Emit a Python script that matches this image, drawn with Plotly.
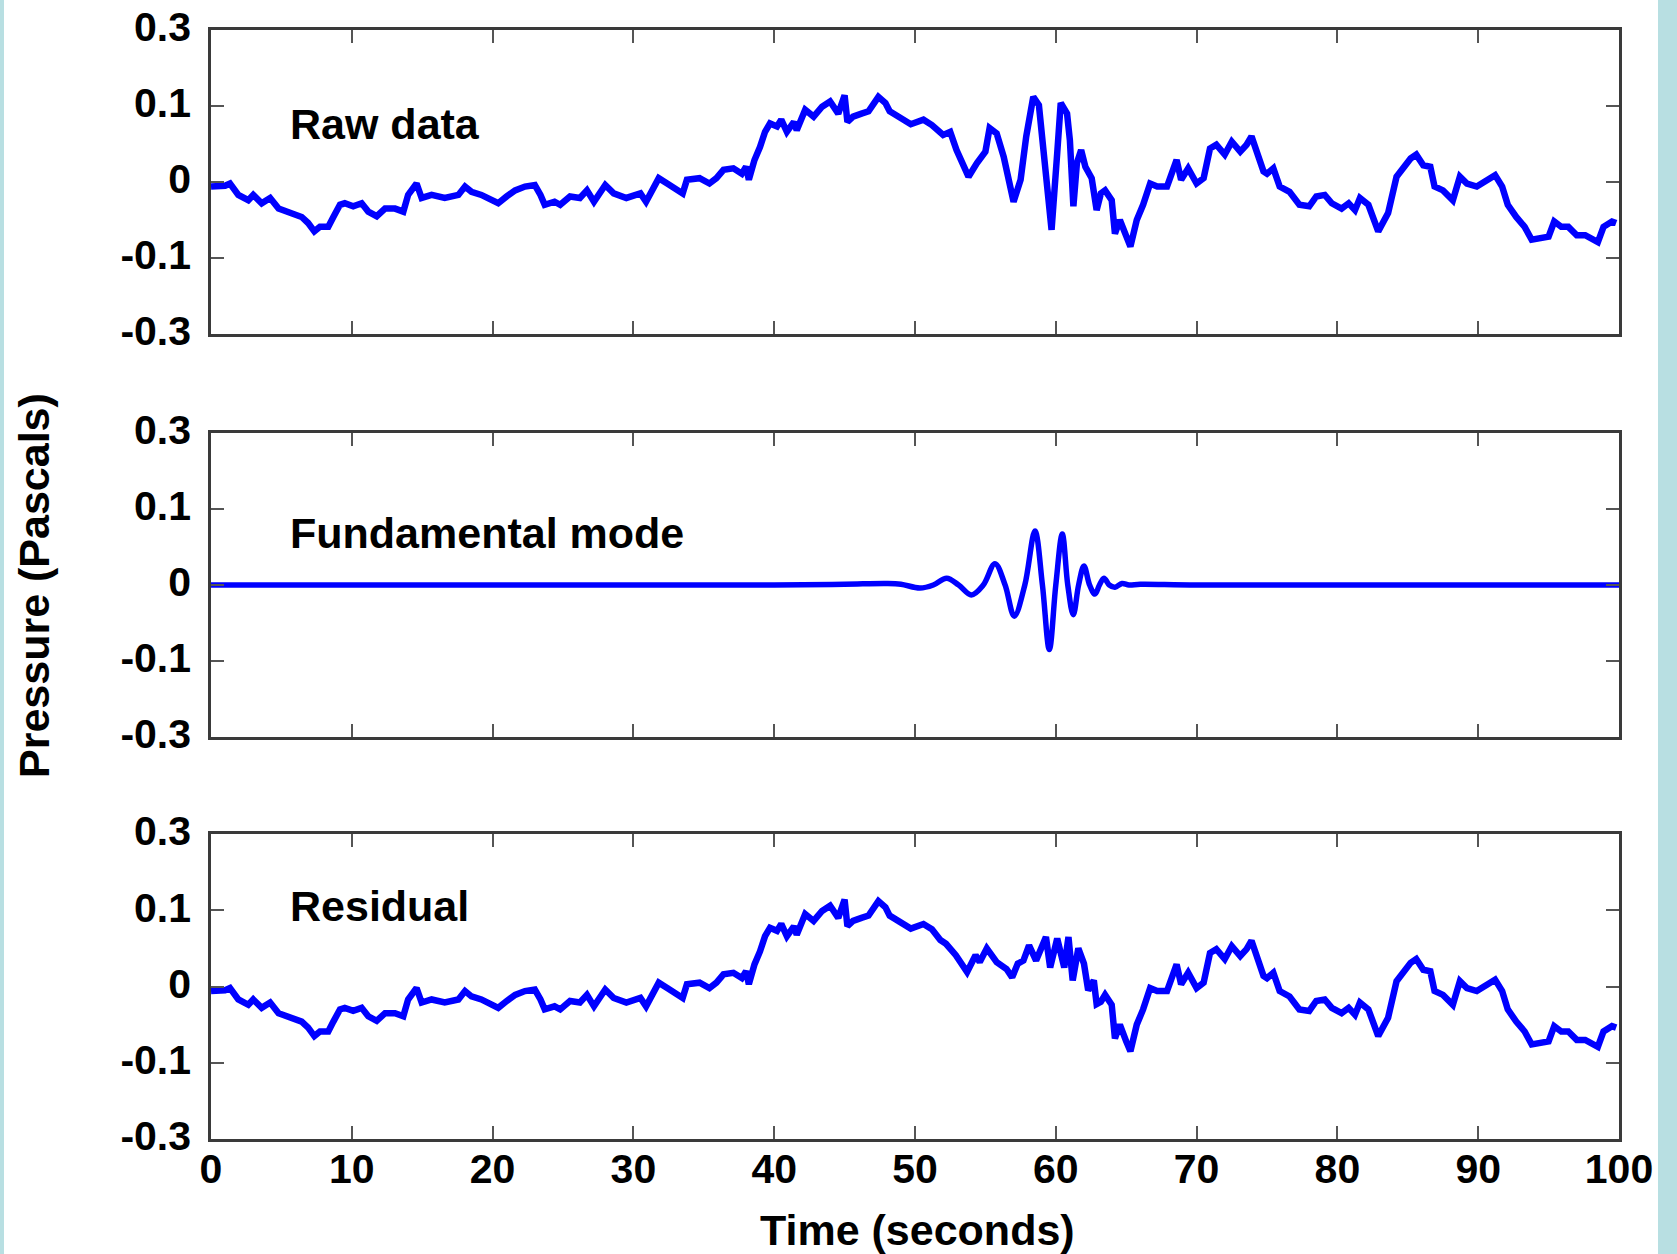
import plotly.graph_objects as go

# ---------------- data ----------------
raw_t = [0.0, 0.5, 1.0, 1.35, 1.94, 2.65, 3.0, 3.6, 4.2, 4.8, 5.7, 6.44, 6.9, 7.34, 7.74, 8.33, 8.69,
         9.16, 9.5, 10.1, 10.7, 11.17, 11.77, 12.36, 13.07, 13.66, 14.0, 14.6, 14.96, 15.67, 16.6,
         17.57, 18.04, 18.5, 19.2, 19.9, 20.4, 21.0, 21.6, 22.3, 23.0, 23.4, 23.7, 24.4, 24.8, 25.5,
         26.2, 26.7, 27.2, 28.0, 28.6, 29.5, 30.5, 30.9, 31.8, 32.4, 32.95, 33.5, 33.8, 34.7, 35.4,
         35.9, 36.4, 37.1, 37.7, 38.0, 38.2, 38.6, 38.99, 39.35, 39.7, 40.2, 40.5, 40.9, 41.4, 41.6,
         42.2, 42.8, 43.4, 43.97, 44.55, 45.0, 45.2, 45.6, 46.2, 46.7, 47.4, 47.9, 48.2, 48.9, 49.7,
         50.6, 51.2, 52.0, 52.5, 52.95, 53.8, 54.4, 55.0, 55.3, 55.8, 56.3, 57.0, 57.5, 57.9, 58.4,
         58.8, 59.1, 59.7, 60.1, 60.35, 60.8, 61.0, 61.25, 61.5, 61.8, 62.1, 62.55, 62.9, 63.2, 63.5,
         63.97, 64.2, 64.55, 65.0, 65.3, 65.75, 66.2, 66.7, 67.2, 67.9, 68.58, 68.9, 69.4, 70.0, 70.5,
         70.95, 71.4, 72.0, 72.5, 73.1, 73.55, 73.9, 74.4, 74.75, 75.0, 75.45, 75.9, 76.6, 77.3, 78.0,
         78.5, 79.1, 79.6, 80.3, 80.8, 81.25, 81.6, 82.2, 82.9, 83.6, 84.2, 84.7, 85.2, 85.6, 86.1,
         86.6, 86.9, 87.5, 88.2, 88.7, 89.2, 89.9, 90.6, 91.2, 91.7, 92.1, 92.7, 93.3, 93.8, 94.4,
         95.0, 95.4, 95.9, 96.4, 97.0, 97.6, 98.2, 98.5, 98.9, 99.5, 99.8]
raw_v = [-0.006, -0.005, -0.005, -0.002, -0.017, -0.024, -0.017, -0.028, -0.021, -0.035, -0.041,
         -0.046, -0.054, -0.065, -0.059, -0.059, -0.046, -0.030, -0.028, -0.032, -0.028, -0.039,
         -0.045, -0.035, -0.035, -0.039, -0.017, -0.002, -0.021, -0.017, -0.021, -0.017, -0.006,
         -0.013, -0.017, -0.024, -0.028, -0.019, -0.011, -0.006, -0.004, -0.017, -0.030, -0.026,
         -0.030, -0.019, -0.021, -0.011, -0.026, -0.004, -0.015, -0.021, -0.015, -0.026, 0.005,
         -0.002, -0.008, -0.015, 0.003, 0.005, -0.002, 0.005, 0.016, 0.018, 0.011, 0.020, 0.003,
         0.029, 0.046, 0.066, 0.077, 0.073, 0.082, 0.066, 0.079, 0.068, 0.095, 0.086, 0.099, 0.106,
         0.090, 0.114, 0.079, 0.086, 0.090, 0.093, 0.112, 0.104, 0.093, 0.086, 0.076, 0.082, 0.075,
         0.062, 0.066, 0.042, 0.007, 0.025, 0.040, 0.071, 0.064, 0.033, -0.026, 0.003, 0.060, 0.112,
         0.101, 0.046, -0.063, 0.038, 0.104, 0.090, 0.055, -0.032, 0.025, 0.042, 0.020, 0.005,
         -0.037, -0.015, -0.011, -0.024, -0.068, -0.050, -0.072, -0.085, -0.050, -0.030, -0.002,
         -0.006, -0.006, 0.029, 0.003, 0.018, -0.002, 0.005, 0.044, 0.049, 0.036, 0.053, 0.040,
         0.049, 0.060, 0.033, 0.014, 0.011, 0.018, -0.006, -0.013, -0.030, -0.032, -0.019, -0.017,
         -0.028, -0.035, -0.028, -0.037, -0.021, -0.030, -0.065, -0.041, 0.007, 0.018, 0.031, 0.036,
         0.022, 0.020, -0.006, -0.011, -0.024, 0.007, -0.002, -0.006, 0.003, 0.009, -0.006, -0.030,
         -0.046, -0.059, -0.076, -0.074, -0.072, -0.052, -0.059, -0.059, -0.070, -0.070, -0.076,
         -0.079, -0.059, -0.052, -0.054]

fund_t = [0, 40, 45, 48, 49, 50.35, 51.3, 52.25, 53.1, 54.0, 54.85, 55.68, 56.4, 57.05, 57.8,
          58.52, 59.05, 59.54, 60.0, 60.46, 60.85, 61.24, 61.62, 62.0, 62.4, 62.78, 63.1, 63.42,
          63.8, 64.2, 64.7, 65.2, 66, 70, 100]
fund_v = [0, 0, 0.001, 0.002, 0.001, -0.004, 0.0, 0.009, 0.0, -0.013, 0.0, 0.028, 0.0, -0.041,
          0.0, 0.071, 0.0, -0.085, 0.0, 0.067, 0.0, -0.039, 0.0, 0.025, 0.0, -0.012, 0.0, 0.009,
          0.0, -0.003, 0.002, 0.0, 0.001, 0, 0]

# residual inside the wave packet (outside it the residual follows the raw data)
res_mid_t = [51.8, 52.2, 52.9, 53.7, 54.3, 54.6, 55.1, 55.3, 55.8, 56.5, 56.9, 57.3, 57.7, 58.1,
             58.6, 59.3, 59.6, 60.1, 60.6, 60.9, 61.2, 61.6, 62.0, 62.3, 62.7, 62.9, 63.2]
res_mid_v = [0.061, 0.056, 0.041, 0.019, 0.041, 0.032, 0.050, 0.045, 0.032, 0.023, 0.012, 0.030,
             0.034, 0.054, 0.034, 0.065, 0.025, 0.063, 0.025, 0.065, 0.008, 0.050, 0.030, -0.005,
             0.008, -0.023, -0.020]

x_tickvals = [0, 10, 20, 30, 40, 50, 60, 70, 80, 90, 100]
y_tickvals = [-0.2, -0.1, 0, 0.1, 0.2]
y_ticktext = ["-0.3", "-0.1", "0", "0.1", "0.3"]
panel_labels = ["Raw data", "Fundamental mode", "Residual"]
x_title = "Time (seconds)"
y_title = "Pressure (Pascals)"

res_t = [t for t in raw_t if t < 51.6] + res_mid_t + [t for t in raw_t if t > 63.3]
res_v = ([v for t, v in zip(raw_t, raw_v) if t < 51.6] + res_mid_v +
         [v for t, v in zip(raw_t, raw_v) if t > 63.3])

# ---------------- figure ----------------
FONT = "Liberation Sans, Arial, sans-serif"
BLUE = "#0000ff"
fig = go.Figure()
fig.add_trace(go.Scatter(x=raw_t, y=raw_v, mode="lines", line=dict(color=BLUE, width=6.5),
                         xaxis="x", yaxis="y", showlegend=False))
fig.add_trace(go.Scatter(x=fund_t, y=fund_v, mode="lines",
                         line=dict(color=BLUE, width=5.5, shape="spline", smoothing=1.0),
                         xaxis="x2", yaxis="y2", showlegend=False))
fig.add_trace(go.Scatter(x=res_t, y=res_v, mode="lines", line=dict(color=BLUE, width=6.5),
                         xaxis="x3", yaxis="y3", showlegend=False))

W, H = 1677, 1254
L, R, T, B = 211, 58, 30, 115
pw, ph = W - L - R, H - T - B


def py(pix):
    return (H - B - pix) / ph


def px(pix):
    return (pix - L) / pw


domains = [[py(334), py(30)], [py(737), py(433)], [py(1139), py(834)]]

axis_common = dict(showgrid=False, zeroline=False, showline=True, linecolor="#3a3a3a",
                   linewidth=2.5, mirror="ticks", ticks="inside", ticklen=13, tickwidth=2,
                   tickcolor="#555555", automargin=False)
tickfont = dict(family=FONT, size=41, color="black", weight="bold")

layout = dict(width=W, height=H, margin=dict(l=L, r=R, t=T, b=B, autoexpand=False),
              paper_bgcolor="white", plot_bgcolor="white", showlegend=False)
for i in range(3):
    sx = "" if i == 0 else str(i + 1)
    layout["xaxis" + sx] = dict(axis_common, range=[0, 100], tickvals=x_tickvals,
                                anchor="y" + sx, domain=[0, 1],
                                showticklabels=(i == 2), tickfont=tickfont,
                                ticklabelstandoff=-8)
    layout["yaxis" + sx] = dict(axis_common, range=[-0.2, 0.2], tickvals=y_tickvals,
                                ticktext=y_ticktext, anchor="x" + sx, domain=domains[i],
                                tickfont=tickfont, ticklabelstandoff=9, ticklabelshift=-3)
fig.update_layout(**layout)

label_y = [py(124), py(533), py(906)]
lab_font = dict(family=FONT, size=43, color="black", weight="bold")
for lab, yy in zip(panel_labels, label_y):
    fig.add_annotation(text=lab, xref="paper", yref="paper", x=px(288), y=yy,
                       xanchor="left", yanchor="middle", showarrow=False, font=lab_font)

fig.add_annotation(text=x_title, xref="paper", yref="paper", x=px(918), y=py(1230),
                   xanchor="center", yanchor="middle", showarrow=False,
                   font=dict(family=FONT, size=43, color="black", weight="bold"))
fig.add_annotation(text=y_title, xref="paper", yref="paper", x=px(34), y=py(586),
                   xanchor="center", yanchor="middle", showarrow=False, textangle=-90,
                   font=dict(family=FONT, size=43, color="black", weight="bold"))

# light blue side strips of the slide
STRIP = "#b8dfe2"
fig.add_shape(type="rect", xref="paper", yref="paper", x0=px(-20), x1=px(4), y0=-0.3, y1=1.3,
              fillcolor=STRIP, line=dict(width=0), layer="below")
fig.add_shape(type="rect", xref="paper", yref="paper", x0=px(1658), x1=px(1700), y0=-0.3, y1=1.3,
              fillcolor=STRIP, line=dict(width=0), layer="below")

fig.write_html("out.html")
